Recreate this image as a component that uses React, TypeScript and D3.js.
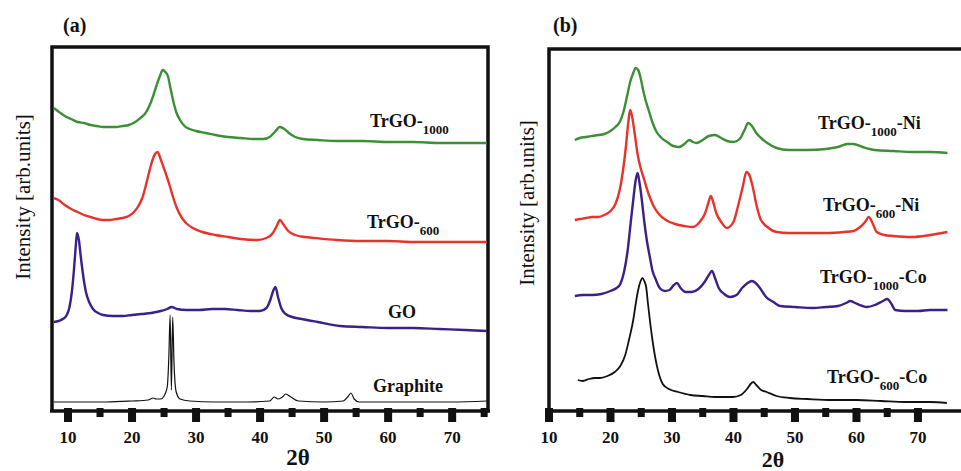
import React from "react";
import * as d3 from "d3";

type Pt = [number, number];

// ---------- Panel (a) data: [2θ, intensity (arb.)] ----------
const trgo1000: Pt[] = [[7.8,304],[8.6,300],[9.5,296],[10.5,293],[11.5,290],[12.5,289],[13.5,287],[14.5,286],[15.5,285],[16.5,285],[17.5,285],[18.5,286],[19.5,287],[20.5,290],[21.3,294],[22,298],[22.7,306],[23.3,316],[23.8,326],[24.3,335],[24.8,342],[25.2,340],[25.6,336],[26,324],[26.4,312],[26.9,300],[27.5,292],[28.2,286],[29,283],[30,281],[31.5,279],[33,277],[35,275],[37,274],[39,273],[40.5,273],[41.5,275],[42.3,280],[43.1,285],[43.8,283],[44.5,279],[45.5,275],[46.7,273],[49,272],[52,271],[56,271],[60,270],[64,270],[68,269],[72,269],[75.4,269]];
const trgo600: Pt[] = [[7.8,214],[8.5,212],[9.5,207],[10.5,203],[11.5,200],[12.5,197],[13.5,195],[14.5,193],[15.5,192],[16.5,192],[17.5,193],[18.5,194],[19.5,196],[20.3,200],[21,206],[21.6,214],[22.1,225],[22.6,238],[23.1,250],[23.6,258],[24,260],[24.4,254],[24.9,245],[25.4,236],[25.9,226],[26.4,215],[27,204],[27.8,194],[28.6,188],[29.5,184],[31,180],[33,177],[35,175],[37,173],[39.5,172],[41,174],[42,179],[42.6,186],[43.1,192],[43.6,188],[44.4,181],[45.5,177],[47,175],[48.5,174],[52,172],[56,171],[60,171],[64,170],[68,170],[72,170],[75.4,170]];
const go: Pt[] = [[7.8,90],[8.5,91],[9.2,93],[9.8,97],[10.2,104],[10.6,120],[10.9,140],[11.2,165],[11.4,179],[11.7,172],[12,155],[12.4,135],[12.8,120],[13.3,110],[13.9,103],[14.7,99],[15.5,97],[17,96],[18.5,96],[20,97],[21.5,98],[23,99],[24.5,101],[25.5,103],[26.2,105],[27,103],[28.5,102],[30.5,102],[32.5,103],[34.5,103],[36.5,102],[38.5,101],[40,101],[41,104],[41.6,112],[42.1,122],[42.4,125],[42.8,115],[43.3,104],[44,98],[45,95],[46.5,93],[49,90],[52.5,86],[56,85],[60,84],[64,84],[68,83],[72,82],[75.4,81]];
const graphite: Pt[] = [[7.8,10],[12,10],[16,10],[20,11],[22.5,12],[23.3,14],[23.8,13],[24.5,13],[25,16],[25.5,25],[25.75,55],[25.95,97],[26.15,22],[26.35,95],[26.55,50],[26.9,20],[27.5,13],[29,11],[33,10],[38,10],[41.5,11],[42.2,15],[42.8,13],[43.5,15],[44,18],[44.8,15],[46,11],[50,10],[53,11],[53.8,16],[54.2,19],[54.7,13],[55.5,10],[60,10],[65,10],[70,10],[75.4,11]];

// ---------- Panel (b) data ----------
const ni1000: Pt[] = [[14.2,272],[15,274],[16,275],[17,276],[18,277],[19,278],[20,281],[20.8,285],[21.5,290],[22.1,300],[22.7,316],[23.2,330],[23.7,339],[24.1,344],[24.5,342],[24.9,334],[25.3,322],[25.7,312],[26.2,302],[26.8,290],[27.5,280],[28.3,274],[29.2,270],[30.2,266],[31.2,265],[32,268],[32.8,272],[33.4,270],[34,269],[35,272],[36,276],[37,277],[38,274],[39,271],[40,270],[41,273],[41.8,282],[42.4,289],[43,286],[43.7,279],[44.5,274],[45.5,269],[47,264],[49,262],[52,262],[55,263],[57,265],[58.5,268],[59.5,268],[61,265],[63,262],[66,261],[69,260],[72,260],[74.8,259]];
const ni600: Pt[] = [[14.2,192],[15,193],[16,194],[17,195],[18,195],[19,197],[20,201],[20.8,208],[21.5,222],[22,240],[22.5,265],[22.9,290],[23.2,302],[23.5,296],[23.9,280],[24.4,258],[24.9,244],[25.5,232],[26.2,218],[27,206],[28,197],[29,192],[30.5,188],[32,186],[33.4,185],[34.5,190],[35.4,199],[36,211],[36.3,216],[36.7,210],[37.2,199],[38,190],[38.9,184],[40,190],[40.7,205],[41.5,225],[42.1,240],[42.5,238],[43.1,226],[43.7,208],[44.4,193],[45.5,185],[47,180],[49,179],[52,179],[55,179],[58,180],[59.5,181],[60.6,185],[61.4,190],[62,195],[62.6,189],[63.3,180],[64.5,177],[66,176],[69,175],[72,177],[74.8,180]];
const co1000: Pt[] = [[14.2,116],[15.5,117],[17,117],[18.5,118],[20,121],[21,124],[21.6,128],[22.2,140],[22.8,162],[23.3,190],[23.7,212],[24.1,232],[24.4,239],[24.7,230],[25.1,212],[25.5,190],[25.9,172],[26.4,155],[26.8,142],[27.4,132],[28,124],[28.8,121],[29.6,122],[30.3,127],[30.8,129],[31.4,124],[32.2,120],[33.2,120],[34.3,123],[35.3,130],[36,137],[36.5,141],[37,134],[37.6,124],[38.5,118],[39.4,115],[40.5,117],[41.4,124],[42.3,129],[43,131],[43.6,129],[44.3,124],[45.3,115],[46.5,110],[47.6,106],[50,105],[52.9,104],[55,105],[57,106],[58.3,109],[59,111],[59.8,109],[61,106],[61.7,105],[63,107],[64.3,111],[65,113],[65.7,108],[66.3,102],[68,101],[70,101],[72,102],[74.8,102]];
const co600: Pt[] = [[14.7,32],[15.5,31],[16.5,33],[17.5,34],[18.3,34],[19.5,36],[20.7,40],[21.6,46],[22.4,57],[23,72],[23.7,92],[24.1,108],[24.5,122],[24.9,131],[25.2,134],[25.5,131],[25.8,125],[26.1,108],[26.4,92],[26.8,73],[27.2,57],[27.7,42],[28.5,28],[29.5,23],[31,20],[33,17],[35,16],[37,15],[39.9,15],[41.2,17],[42.2,23],[42.8,28],[43.2,30],[43.7,27],[44.5,22],[45.4,20],[47,16],[49.2,14],[52,13],[56,12],[60,12],[64,11],[68,10],[72,10],[74.7,9]];

const ticksA = [10, 15, 20, 25, 30, 35, 40, 45, 50, 55, 60, 65, 70, 75];
const ticksB = [10, 15, 20, 25, 30, 35, 40, 45, 50, 55, 60, 65, 70];
const majorLabels = [10, 20, 30, 40, 50, 60, 70];

const GREEN = "#3b8f35";
const RED = "#e8332b";
const PURPLE = "#3a2088";
const BLACK = "#111";
const FONT = "Liberation Serif, Times New Roman, Times, DejaVu Serif, serif";

const xA = d3.scaleLinear().domain([7.5, 75.6]).range([52, 488]);
const yA = d3.scaleLinear().domain([0, 365]).range([412, 47]);
const xB = d3.scaleLinear().domain([10, 77]).range([549, 961]);
const yB = d3.scaleLinear().domain([0, 363]).range([412, 49]);

function path(data: Pt[], x: any, y: any) {
  return d3.line<Pt>().x(d => x(d[0])).y(d => y(d[1])).curve(d3.curveMonotoneX)(data) || "";
}

const textStyle = { fontFamily: FONT };

function Label({ x, y, sub, suffix }: { x: number; y: number; sub: string; suffix?: string }) {
  return (
    <text x={x} y={y} style={textStyle} fontWeight="bold" fontSize={18} fill="#111">
      TrGO-
      <tspan fontSize={13} dy={7}>{sub}</tspan>
      {suffix ? <tspan dy={-7}>{suffix}</tspan> : null}
    </text>
  );
}

function Axis({ x, ticks, y0, x0, x1 }: { x: any; ticks: number[]; y0: number; x0: number; x1: number }) {
  return (
    <g>
      <line x1={x0} x2={x1} y1={y0} y2={y0} stroke="#111" strokeWidth={3.5} />
      {ticks.map(t => {
        const major = t % 10 === 0;
        const w = major ? 8 : 7;
        return (
          <rect key={t} x={x(t) - w / 2} y={y0 - 3} width={w} height={major ? 14 : 9} fill="#111" />
        );
      })}
      {majorLabels.map(t => (
        <text key={t} x={x(t)} y={443} textAnchor="middle" style={textStyle} fontWeight="bold" fontSize={17} fill="#111">
          {t}
        </text>
      ))}
    </g>
  );
}

export default function App() {
  return (
    <svg width={961} height={471} style={{ position: "absolute", left: 0, top: 0, background: "#fff" }}>
      <rect width={961} height={471} fill="#fff" />
      {/* Panel (a) */}
      <text x={63} y={32} style={textStyle} fontWeight="bold" fontSize={20} fill="#111">(a)</text>
      <path d={`M52,412 V47 H488 V412`} fill="none" stroke="#111" strokeWidth={3.5} />
      <path d={path(trgo1000, xA, yA)} fill="none" stroke={GREEN} strokeWidth={2.4} />
      <path d={path(trgo600, xA, yA)} fill="none" stroke={RED} strokeWidth={2.4} />
      <path d={path(go, xA, yA)} fill="none" stroke={PURPLE} strokeWidth={2.4} />
      <path d={path(graphite, xA, yA)} fill="none" stroke={BLACK} strokeWidth={1.2} />
      <Axis x={xA} ticks={ticksA} y0={411} x0={50} x1={490} />
      <Label x={370} y={127} sub="1000" />
      <Label x={367} y={228} sub="600" />
      <text x={388} y={318} style={textStyle} fontWeight="bold" fontSize={18} fill="#111">GO</text>
      <text x={373} y={392} style={textStyle} fontWeight="bold" fontSize={18} fill="#111">Graphite</text>
      <text transform="translate(30,197) rotate(-90)" textAnchor="middle" style={textStyle} fontSize={21} fill="#111">
        Intensity [arb.units]
      </text>
      <text x={298} y={465} textAnchor="middle" style={textStyle} fontWeight="bold" fontSize={23} fill="#111">2θ</text>

      {/* Panel (b) */}
      <text x={553} y={32} style={textStyle} fontWeight="bold" fontSize={20} fill="#111">(b)</text>
      <path d={`M549,412 V49 H961`} fill="none" stroke="#111" strokeWidth={3.5} />
      <path d={path(ni1000, xB, yB)} fill="none" stroke={GREEN} strokeWidth={2.4} />
      <path d={path(ni600, xB, yB)} fill="none" stroke={RED} strokeWidth={2.4} />
      <path d={path(co1000, xB, yB)} fill="none" stroke={PURPLE} strokeWidth={2.4} />
      <path d={path(co600, xB, yB)} fill="none" stroke={BLACK} strokeWidth={1.8} />
      <Axis x={xB} ticks={ticksB} y0={411} x0={547} x1={961} />
      <Label x={818} y={129} sub="1000" suffix="-Ni" />
      <Label x={823} y={211} sub="600" suffix="-Ni" />
      <Label x={820} y={283} sub="1000" suffix="-Co" />
      <Label x={827} y={383} sub="600" suffix="-Co" />
      <text transform="translate(534,203) rotate(-90)" textAnchor="middle" style={textStyle} fontSize={21} fill="#111">
        Intensity [arb.units]
      </text>
      <text x={773} y={467} textAnchor="middle" style={textStyle} fontWeight="bold" fontSize={22} fill="#111">2θ</text>
    </svg>
  );
}
